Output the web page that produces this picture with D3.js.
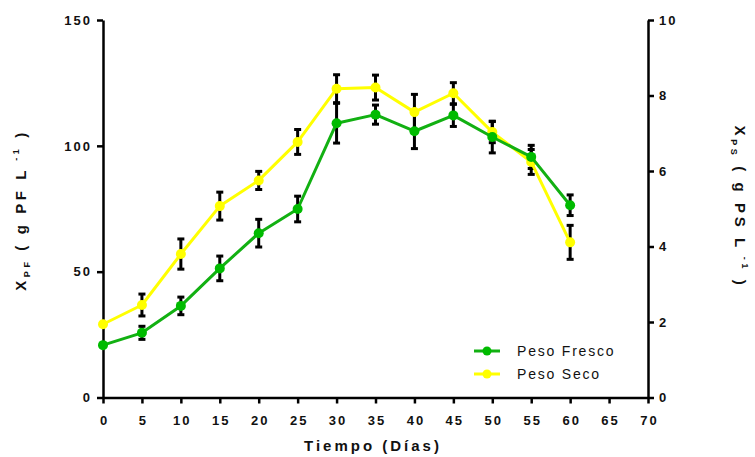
<!DOCTYPE html>
<html>
<head>
<meta charset="utf-8">
<script src="https://cdn.jsdelivr.net/npm/d3@7"></script>
<style>
  html, body { margin: 0; padding: 0; background: #fff; }
  svg text { font-family: "Liberation Sans", Arial, sans-serif; }
</style>
</head>
<body>
<svg id="chart" width="755" height="457"></svg>
<script>
// Tiempo (días)
const days = [0, 5, 10, 15, 20, 25, 30, 35, 40, 45, 50, 55, 60];
// Peso fresco, g PF/L (left axis)
const pesoFresco    = [20.8, 25.7, 36.4, 51.3, 65.3, 74.9, 109.0, 112.4, 105.8, 112.1, 103.5, 95.6, 76.4];
const pesoFrescoErr = [0, 2.6, 3.5, 4.9, 5.5, 5.1, 7.9, 3.8, 6.9, 4.4, 6.3, 4.6, 4.1];
// Peso seco, g PS/L (right axis)
const pesoSeco      = [1.94, 2.45, 3.80, 5.07, 5.75, 6.77, 8.18, 8.21, 7.56, 8.06, 7.03, 6.24, 4.11];
const pesoSecoErr   = [0, 0.29, 0.40, 0.37, 0.24, 0.33, 0.37, 0.33, 0.47, 0.28, 0.28, 0.33, 0.45];

const xTicks = d3.range(0, 71, 5);
const yLeftTicks = [0, 50, 100, 150];
const yRightTicks = [0, 2, 4, 6, 8, 10];

const svg = d3.select("#chart");
const plotLeft = 103, plotRight = 648, plotTop = 20, plotBottom = 397.5;

const x = d3.scaleLinear().domain([0, 70]).range([plotLeft, plotRight]);
const yL = d3.scaleLinear().domain([0, 150]).range([plotBottom, plotTop]);
const yR = d3.scaleLinear().domain([0, 10]).range([plotBottom, plotTop]);

function styleAxis(g) {
  g.select(".domain").attr("stroke", "#000").attr("stroke-width", 2.5);
  g.selectAll(".tick line").attr("stroke", "#000").attr("stroke-width", 2.5);
  g.selectAll(".tick text")
    .attr("fill", "#111")
    .style("font-size", "13px")
    .style("font-weight", "bold")
    .style("letter-spacing", "2px");
}

svg.append("g")
  .attr("transform", `translate(0,${plotBottom})`)
  .call(d3.axisBottom(x).tickValues(xTicks).tickSize(6).tickSizeOuter(0).tickPadding(12))
  .call(styleAxis)
  .call(g => g.selectAll(".tick text").attr("dx", "1px"));

svg.append("g")
  .attr("transform", `translate(${plotLeft},0)`)
  .call(d3.axisLeft(yL).tickValues(yLeftTicks).tickSize(6).tickSizeOuter(0).tickPadding(5))
  .call(styleAxis);

svg.append("g")
  .attr("transform", `translate(${plotRight},0)`)
  .call(d3.axisRight(yR).tickValues(yRightTicks).tickSize(6).tickSizeOuter(0).tickPadding(5))
  .call(styleAxis);

// Axis titles
svg.append("text")
  .attr("x", 373).attr("y", 451)
  .attr("text-anchor", "middle")
  .style("font-size", "15px").style("font-weight", "bold").style("letter-spacing", "3px")
  .attr("fill", "#111")
  .text("Tiempo (Días)");

function yTitle(tx, ty, angle, sub, unit) {
  const t = svg.append("text")
    .attr("transform", `translate(${tx},${ty}) rotate(${angle})`)
    .attr("text-anchor", "middle")
    .style("font-size", "15px").style("font-weight", "bold").style("letter-spacing", "3.6px")
    .attr("fill", "#111");
  t.append("tspan").text("X");
  t.append("tspan").attr("dy", 4).style("font-size", "9px").text(sub);
  t.append("tspan").attr("dy", -4).text(` ( g ${unit} L`);
  t.append("tspan").attr("dy", -7).style("font-size", "9px").text(" -1");
  t.append("tspan").attr("dy", 7).text(" )");
}
yTitle(26, 210, -90, "PF", "PF");
yTitle(735, 207, 90, "PS", "PS");

const green = "#12b012", greenDot = "#00bb00";
const yellow = "#ffff00";

// Error bars
function errorBars(vals, errs, scale) {
  const g = svg.append("g").attr("stroke", "#000").attr("stroke-width", 3);
  days.forEach((d, i) => {
    if (!errs[i]) return;
    const cx = x(d), y1 = scale(vals[i] - errs[i]), y2 = scale(vals[i] + errs[i]);
    g.append("line").attr("x1", cx).attr("x2", cx).attr("y1", y1).attr("y2", y2);
    g.append("line").attr("x1", cx - 3.5).attr("x2", cx + 3.5).attr("y1", y1).attr("y2", y1);
    g.append("line").attr("x1", cx - 3.5).attr("x2", cx + 3.5).attr("y1", y2).attr("y2", y2);
  });
}
errorBars(pesoFresco, pesoFrescoErr, yL);
errorBars(pesoSeco, pesoSecoErr, yR);

function series(vals, scale, lineColor, dotColor) {
  const line = d3.line().x((d, i) => x(days[i])).y(d => scale(d));
  svg.append("path").datum(vals)
    .attr("fill", "none").attr("stroke", lineColor).attr("stroke-width", 3)
    .attr("stroke-linejoin", "round")
    .attr("d", line);
  svg.append("g").selectAll("circle").data(vals).join("circle")
    .attr("cx", (d, i) => x(days[i])).attr("cy", d => scale(d))
    .attr("r", 5).attr("fill", dotColor);
}
series(pesoSeco, yR, yellow, yellow);
series(pesoFresco, yL, green, greenDot);

// Legend
const legend = [
  { label: "Peso Fresco", line: green, dot: greenDot, y: 351 },
  { label: "Peso Seco", line: yellow, dot: yellow, y: 374 }
];
legend.forEach(l => {
  svg.append("line").attr("x1", 474).attr("x2", 500).attr("y1", l.y).attr("y2", l.y)
    .attr("stroke", l.line).attr("stroke-width", 3);
  svg.append("circle").attr("cx", 487).attr("cy", l.y).attr("r", 4.5).attr("fill", l.dot);
  svg.append("text").attr("x", 517).attr("y", l.y + 5)
    .style("font-size", "14px").style("letter-spacing", "1.8px").attr("fill", "#111")
    .text(l.label);
});
</script>
</body>
</html>
